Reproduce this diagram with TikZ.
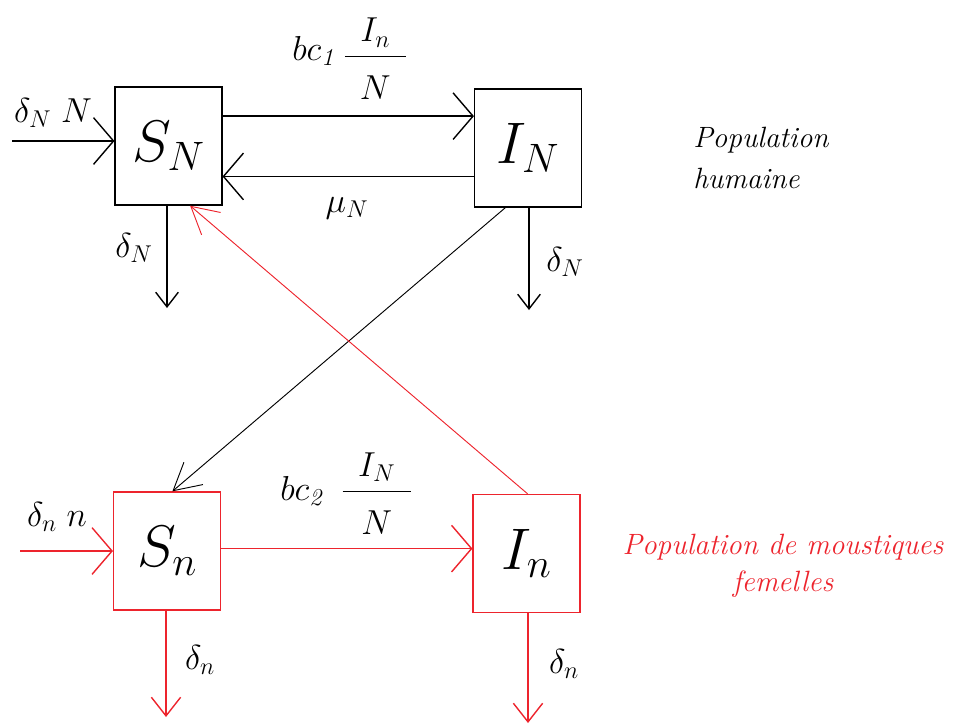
\RequirePackage{fix-cm}
\documentclass[tikz,border=0pt]{standalone}
\usepackage{amsmath}
\usetikzlibrary{arrows.meta,calc}
\definecolor{rd}{RGB}{237,36,45}
\begin{document}
\begin{tikzpicture}[x=0.75pt,y=-0.75pt,
  box/.style={draw,line width=1.05pt,minimum width=80pt,minimum height=88.5pt,inner sep=0pt,font=\fontsize{44}{50}\selectfont},
  lab/.style={inner sep=0pt,font=\fontsize{26}{30}\selectfont},
  ar/.style={line width=1.05pt},
  dg/.style={line width=0.7pt},
  tipH/.style={-{Straight Barb[length=15pt,width=35pt]}},
  tipS/.style={-{Straight Barb[length=11pt,width=17pt]}},
  tipR/.style={-{Straight Barb[length=14pt,width=22pt]}},
  tipD/.style={-{Straight Barb[length=20pt,width=22pt]}}]
\useasboundingbox (0,0) rectangle (953,726);
% boxes
\node[box] (SN) at (168.5,146) {$S_N$};
\node[box] (IN) at (528,148) {$I_N$};
\node[box,draw=rd] (Sn) at (167,551) {$S_n$};
\node[box,draw=rd] (In) at (526.5,553.5) {$I_n$};
% labels
\node[lab] (l1) at (53,113) {$\delta_N\;N$};
\node[lab,anchor=base west] (l2) at (292,60) {$bc_{\mathit{1}}\,\raisebox{-4pt}{$\displaystyle\frac{\hspace{0.45em}I_n\hspace{0.45em}}{\rule{0pt}{1.1em}N}$}$};
\node[lab] (l3) at (347,208) {$\mu_N$};
\node[lab] (l4) at (134,248) {$\delta_N$};
\node[lab] (l5) at (565,262) {$\delta_N$};
\node[lab] (l6) at (57,517) {$\delta_n\;n$};
\node[lab,anchor=base west] (l7) at (280,500) {$bc_{\mathit{2}}\hspace{0.45em}\dfrac{\hspace{0.45em}I_N\hspace{0.45em}}{\rule{0pt}{1.1em}N}$};
\node[lab] (l8) at (200,660) {$\delta_n$};
\node[lab] (l9) at (564,664) {$\delta_n$};
\node[anchor=west,align=left,inner sep=0pt,font=\fontsize{22}{31}\selectfont\itshape] (ph) at (693,158) {Population\\humaine};
\node[align=center,inner sep=0pt,text=rd,font=\fontsize{22}{28}\selectfont\itshape] (pm) at (783,566) {Population de moustiques\\femelles};
% human connectors
\coordinate (a) at ($(SN.north east)!0.25!(SN.south east)$);
\draw[ar,tipH] (a) -- (a -| IN.west);
\coordinate (b) at ($(SN.north east)!0.755!(SN.south east)$);
\draw[ar,tipH] (b -| IN.west) -- (b);
\coordinate (inN) at (12,141);
\draw[ar,tipH] (inN) -- (inN -| SN.west);
\coordinate (dSN) at (167,308);
\draw[ar,tipS] (SN.south -| dSN) -- (dSN);
\coordinate (dIN) at (529,310);
\draw[ar,tipS] (IN.south -| dIN) -- (dIN);
% cross connectors
\draw[dg,tipD] ($(IN.south west)!0.29!(IN.south east)$) -- ($(Sn.north west)!0.55!(Sn.north east)$);
\draw[dg,rd,tipD] ($(In.north west)!0.51!(In.north east)$) -- ($(SN.south west)!0.70!(SN.south east)$);
% mosquito connectors
\coordinate (inn) at (20,551);
\draw[ar,rd,tipH] (inn) -- (inn -| Sn.west);
\coordinate (c) at ($(Sn.north east)!0.48!(Sn.south east)$);
\draw[ar,rd,tipH] (c) -- (c -| In.west);
\coordinate (dSn) at (166,717);
\draw[ar,rd,tipR] (Sn.south -| dSn) -- (dSn);
\coordinate (dIn) at (528,723);
\draw[ar,rd,tipR] (In.south -| dIn) -- (dIn);
\end{tikzpicture}
\end{document}
